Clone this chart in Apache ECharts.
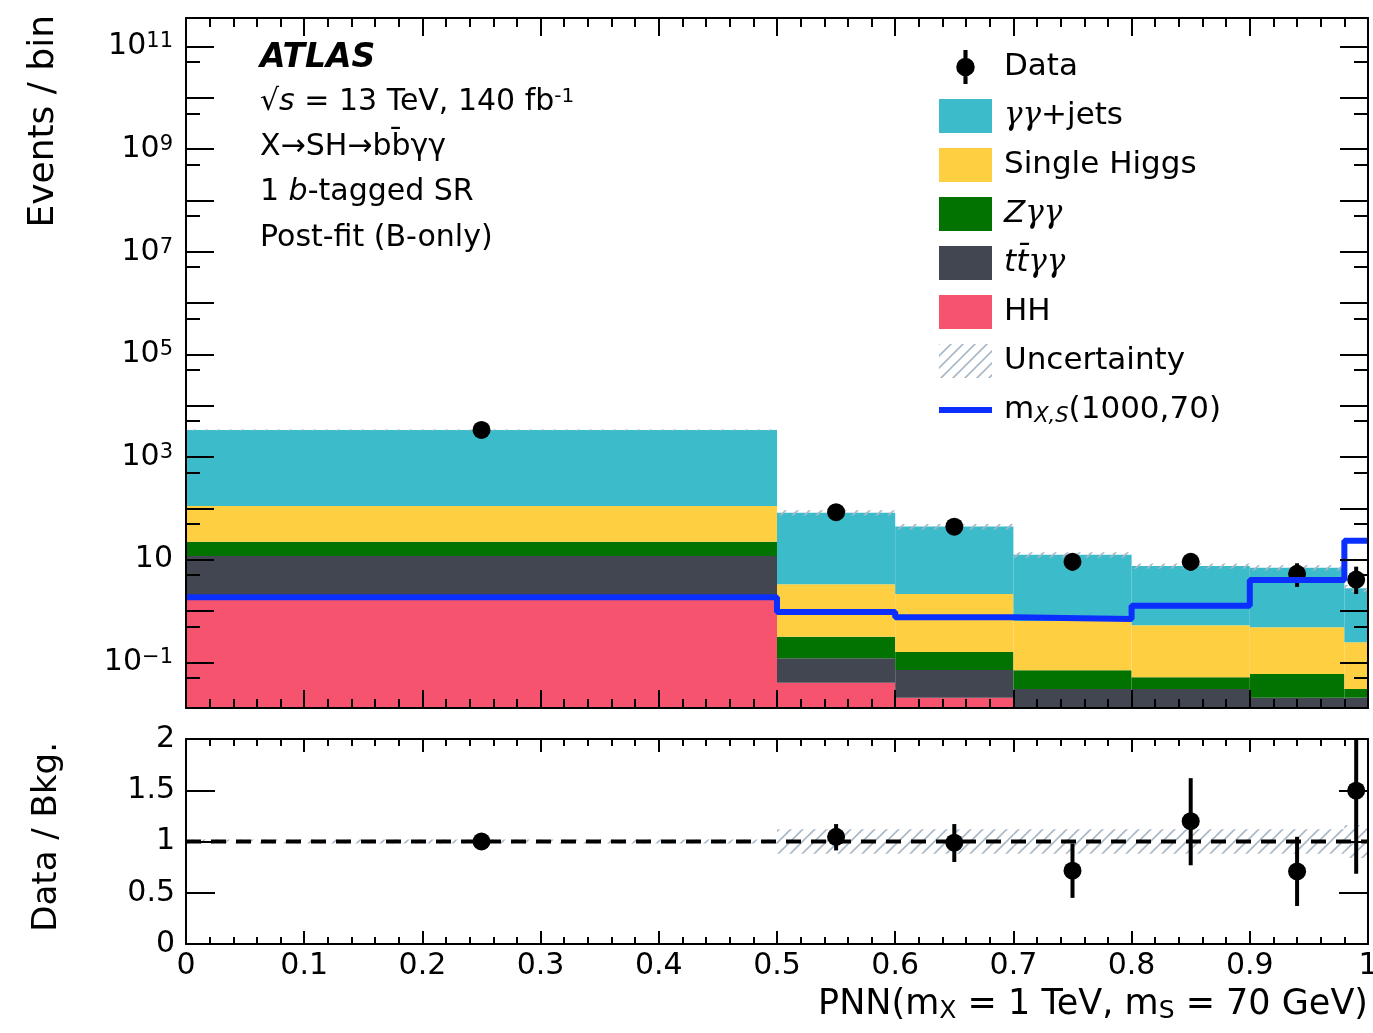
<!DOCTYPE html>
<html>
<head>
<meta charset="utf-8">
<title>PNN 1 b-tagged SR</title>
<script src="https://cdn.jsdelivr.net/npm/echarts@6/dist/echarts.min.js"></script>
<style>
  html, body { margin: 0; padding: 0; background: #fff; }
  #main { width: 1373px; height: 1033px; }
</style>
</head>
<body>
<div id="main"></div>
<script>
// bin edges of the PNN score
const binEdges = [0, 0.5, 0.6, 0.7, 0.8, 0.9, 0.98, 1.0]

// post-fit background yields per bin, stacked from the bottom
const hhYield      = [1.9, 0.040, 0.0204, 0.005, 0.005, 0.003, 0.002]
const ttyyYield    = [9.9, 0.080, 0.0504, 0.025, 0.025, 0.0174, 0.0184]
const zyyYield     = [10.6, 0.196, 0.0872, 0.040, 0.021, 0.0388, 0.0098]
const singleHYield = [88.6, 2.99, 1.98, 0.567, 0.475, 0.422, 0.215]
const yyjetsYield  = [3264, 79.1, 41.9, 11.8, 7.0, 6.5, 2.52]
// relative background uncertainty per bin
const bkgUnc = [0.02, 0.12, 0.12, 0.12, 0.12, 0.12, 0.16]

// signal m_X,S(1000,70)
const signalYield = [1.85, 0.955, 0.753, 0.698, 1.27, 4.02, 23.4]

// data points
const dataX  = [0.25, 0.55, 0.65, 0.75, 0.85, 0.94, 0.99]
const dataY  = [3380, 84, 44, 9.1, 9.1, 5.3, 4.1]
const dataLo = [3320, 75, 37.5, 6.1, 6.1, 2.94, 2.14]
const dataHi = [3440, 93, 50.5, 12.1, 12.1, 8.5, 7.3]

// data / bkg.
const ratioY  = [1.0, 1.046, 0.989, 0.715, 1.198, 0.708, 1.496]
const ratioLo = [0.99, 0.913, 0.80, 0.45, 0.768, 0.371, 0.686]
const ratioHi = [1.01, 1.17, 1.17, 0.98, 1.618, 1.046, 2.3]

// axis ranges and ticks
const yMin = 0.01285
const yMax = 3.6e11
const logMajorTicks = [0.1, 1, 10, 1e2, 1e3, 1e4, 1e5, 1e6, 1e7, 1e8, 1e9, 1e10, 1e11]
const logMinorTicks = [0.05, 0.5, 5, 50, 5e2, 5e3, 5e4, 5e5, 5e6, 5e7, 5e8, 5e9, 5e10]
const logLabelTicks = [0.1, 10, 1e3, 1e5, 1e7, 1e9, 1e11]
const ratioTicks = [0.5, 1, 1.5]

const FONT = 'DejaVu Sans'
const BLACK = '#000'

// hatch pattern for the uncertainty band
function makeHatch() {
  const c = document.createElement('canvas')
  c.width = 12
  c.height = 12
  const ctx = c.getContext('2d')
  ctx.strokeStyle = '#a9b8c6'
  ctx.lineWidth = 1.6
  ctx.beginPath()
  ctx.moveTo(0, 12); ctx.lineTo(12, 0)
  ctx.moveTo(-3, 3); ctx.lineTo(3, -3)
  ctx.moveTo(9, 15); ctx.lineTo(15, 9)
  ctx.stroke()
  return c
}
const hatch = { image: makeHatch(), repeat: 'repeat' }

// rectangle from [x0, x1, lo, hi]
function rectItem(fill) {
  return function(params, api) {
    const p0 = api.coord([api.value(0), api.value(3)])
    const p1 = api.coord([api.value(1), api.value(2)])
    return {
      type: 'rect',
      shape: { x: p0[0], y: p0[1], width: p1[0] - p0[0], height: p1[1] - p0[1] },
      style: { fill: fill }
    }
  }
}

// vertical error bar from [x, lo, hi]
function errItem(params, api) {
  const a = api.coord([api.value(0), api.value(1)])
  const b = api.coord([api.value(0), api.value(2)])
  return {
    type: 'line',
    shape: { x1: a[0], y1: a[1], x2: b[0], y2: b[1] },
    style: { stroke: BLACK, lineWidth: 4 }
  }
}

const stackDefs = [
  { name: 'HH', values: hhYield, color: '#f6536f' },
  { name: 'ttyy', values: ttyyYield, color: '#424650' },
  { name: 'Zyy', values: zyyYield, color: '#027200' },
  { name: 'Single Higgs', values: singleHYield, color: '#fecf41' },
  { name: 'yyjets', values: yyjetsYield, color: '#3cbbca' }
]
const total = hhYield.map(() => 0)
const stackSeries = stackDefs.map(def => {
  const rows = def.values.map((v, i) => {
    const lo = total[i] > 0 ? total[i] : yMin / 10
    total[i] += v
    return [binEdges[i], binEdges[i + 1], lo, total[i]]
  })
  return {
    name: def.name,
    type: 'custom',
    xAxisIndex: 0,
    yAxisIndex: 0,
    clip: true,
    itemStyle: { color: def.color },
    renderItem: rectItem(def.color),
    encode: { x: [0, 1], y: [2, 3] },
    data: rows
  }
})

const bandTop = total.map((t, i) => [binEdges[i], binEdges[i + 1], t * (1 - bkgUnc[i]), t * (1 + bkgUnc[i])])
const bandRatio = bkgUnc.map((u, i) => [binEdges[i], binEdges[i + 1], 1 - u, 1 + u])
const signalLine = binEdges.map((x, i) => [x, signalYield[Math.min(i, signalYield.length - 1)]])

function powLabel(v) {
  const e = Math.round(Math.log10(v))
  if (e === 1) return '{b|10}'
  return '{b|10}{e|' + (e < 0 ? '\u2212' + (-e) : e) + '}'
}

// x axes: labels only on the lowest one
function xAxisDef(grid, pos, majorLen, minorLen, withLabels) {
  return {
    gridIndex: grid,
    type: 'value',
    position: pos,
    min: 0,
    max: 1,
    interval: 0.1,
    z: 10,
    axisLine: { onZero: false, lineStyle: { color: BLACK, width: 2 } },
    axisTick: { inside: true, length: majorLen, lineStyle: { color: BLACK, width: 2 } },
    minorTick: { show: true, splitNumber: 5, length: minorLen, lineStyle: { color: BLACK, width: 2 } },
    splitLine: { show: false },
    minorSplitLine: { show: false },
    axisLabel: {
      show: withLabels,
      margin: 7,
      color: BLACK,
      fontFamily: FONT,
      fontSize: 30,
      hideOverlap: false,
      showMinLabel: true,
      showMaxLabel: true,
      formatter: v => String(Math.round(v * 10) / 10)
    }
  }
}

function logAxisDef(pos, ticks, len, withLine, withLabels) {
  return {
    gridIndex: 0,
    type: 'log',
    position: pos,
    min: yMin,
    max: yMax,
    z: 10,
    axisLine: { show: withLine, onZero: false, lineStyle: { color: BLACK, width: 2 } },
    axisTick: { inside: true, length: len, customValues: ticks, lineStyle: { color: BLACK, width: 2 } },
    minorTick: { show: false },
    splitLine: { show: false },
    axisLabel: {
      show: withLabels,
      customValues: logLabelTicks,
      margin: 13,
      color: BLACK,
      formatter: powLabel,
      rich: {
        b: { fontFamily: FONT, fontSize: 30, lineHeight: 30, color: BLACK },
        e: { fontFamily: FONT, fontSize: 21, lineHeight: 10, verticalAlign: 'top', color: BLACK }
      }
    }
  }
}

function ratioAxisDef(pos, withLabels) {
  return {
    gridIndex: 1,
    type: 'value',
    position: pos,
    min: 0,
    max: 2,
    interval: 0.5,
    z: 10,
    axisLine: { onZero: false, lineStyle: { color: BLACK, width: 2 } },
    axisTick: { inside: true, length: 29, customValues: ratioTicks, lineStyle: { color: BLACK, width: 2 } },
    splitLine: { show: false },
    axisLabel: {
      show: withLabels,
      margin: 11,
      color: BLACK,
      fontFamily: FONT,
      fontSize: 30,
      showMinLabel: true,
      showMaxLabel: true
    }
  }
}

const legendRich = {
  g: { fontFamily: 'DejaVu Serif', fontStyle: 'italic', fontSize: 31, lineHeight: 34, color: BLACK },
  i: { fontFamily: FONT, fontStyle: 'italic', fontSize: 31, lineHeight: 34, color: BLACK },
  sub: { fontFamily: FONT, fontStyle: 'italic', fontSize: 21, lineHeight: 4, verticalAlign: 'bottom', color: BLACK }
}
const legendText = {
  'Data': 'Data',
  'yyjets': '{g|\u03b3\u03b3}+jets',
  'Single Higgs': 'Single Higgs',
  'Zyy': '{i|Z}{g|\u03b3\u03b3}',
  'ttyy': '{i|tt\u0304}{g|\u03b3\u03b3}',
  'HH': 'HH',
  'Uncertainty': 'Uncertainty',
  'signal': 'm{sub|X,S}(1000,70)'
}

const chart = echarts.init(document.getElementById('main'))

const option = {
  animation: false,
  backgroundColor: '#fff',
  grid: [
    { left: 186, top: 18, width: 1182, height: 690, outerBoundsMode: 'none', containLabel: false },
    { left: 186, top: 739, width: 1182, height: 205, outerBoundsMode: 'none', containLabel: false }
  ],
  xAxis: [
    xAxisDef(0, 'bottom', 18, 9, false),
    xAxisDef(0, 'top', 18, 9, false),
    xAxisDef(1, 'bottom', 13, 7, true),
    xAxisDef(1, 'top', 13, 7, false)
  ],
  yAxis: [
    logAxisDef('left', logMajorTicks, 28, true, true),
    logAxisDef('left', logMinorTicks, 14, false, false),
    logAxisDef('right', logMajorTicks, 28, true, false),
    logAxisDef('right', logMinorTicks, 14, false, false),
    ratioAxisDef('left', true),
    ratioAxisDef('right', false)
  ],
  legend: {
    left: 939,
    top: 50,
    padding: 0,
    orient: 'vertical',
    itemWidth: 53,
    itemHeight: 34,
    itemGap: 15,
    selectedMode: false,
    formatter: name => legendText[name],
    textStyle: {
      fontFamily: FONT,
      fontSize: 31,
      lineHeight: 34,
      color: BLACK,
      padding: [0, 0, 0, 7],
      rich: legendRich
    },
    data: [
      { name: 'Data', icon: 'path://M7,0 L11,0 L11,33 L7,33 Z M0,16.5 A9,9 0 1,1 18,16.5 A9,9 0 1,1 0,16.5 Z', itemStyle: { color: BLACK } },
      { name: 'yyjets', icon: 'rect', itemStyle: { color: '#3cbbca' } },
      { name: 'Single Higgs', icon: 'rect', itemStyle: { color: '#fecf41' } },
      { name: 'Zyy', icon: 'rect', itemStyle: { color: '#027200' } },
      { name: 'ttyy', icon: 'rect', itemStyle: { color: '#424650' } },
      { name: 'HH', icon: 'rect', itemStyle: { color: '#f6536f' } },
      { name: 'Uncertainty', icon: 'rect', itemStyle: { color: hatch } },
      { name: 'signal', icon: 'path://M0,0 L52,0 L52,6 L0,6 Z', itemStyle: { color: '#0b2fff' } }
    ]
  },
  graphic: [
    { type: 'text', x: 260, y: 58, style: { text: 'ATLAS', fontFamily: FONT, fontSize: 33, fontWeight: 'bold', fontStyle: 'italic', fill: BLACK, verticalAlign: 'middle' } },
    {
      type: 'text', x: 260, y: 102,
      style: {
        text: '\u221a{i|s} = 13 TeV, 140 fb{sup|-1}',
        fontFamily: FONT, fontSize: 30, lineHeight: 30, fill: BLACK, verticalAlign: 'middle',
        rich: {
          i: { fontFamily: FONT, fontStyle: 'italic', fontSize: 30, lineHeight: 30 },
          sup: { fontFamily: FONT, fontSize: 20, lineHeight: 10, verticalAlign: 'top' }
        }
      }
    },
    { type: 'text', x: 260, y: 147, style: { text: 'X\u2192SH\u2192bb\u0304\u03b3\u03b3', fontFamily: FONT, fontSize: 30, fill: BLACK, verticalAlign: 'middle' } },
    {
      type: 'text', x: 260, y: 192,
      style: {
        text: '1 {i|b}-tagged SR',
        fontFamily: FONT, fontSize: 30, fill: BLACK, verticalAlign: 'middle',
        rich: { i: { fontFamily: FONT, fontStyle: 'italic', fontSize: 30 } }
      }
    },
    { type: 'text', x: 260, y: 238, style: { text: 'Post-fit (B-only)', fontFamily: FONT, fontSize: 30, fill: BLACK, verticalAlign: 'middle' } },
    // axis titles
    { type: 'text', x: 44, y: 15, rotation: Math.PI / 2, style: { text: 'Events / bin', fontFamily: FONT, fontSize: 36, fill: BLACK, align: 'right', verticalAlign: 'middle' } },
    { type: 'text', x: 47, y: 742, rotation: Math.PI / 2, style: { text: 'Data / Bkg.', fontFamily: FONT, fontSize: 34, fill: BLACK, align: 'right', verticalAlign: 'middle' } },
    {
      type: 'text', x: 1368, y: 1005,
      style: {
        text: 'PNN(m{sub|X} = 1 TeV, m{sub|S} = 70 GeV)',
        fontFamily: FONT, fontSize: 35, lineHeight: 38, fill: BLACK, align: 'right', verticalAlign: 'middle',
        rich: { sub: { fontFamily: FONT, fontSize: 25, lineHeight: 2, verticalAlign: 'bottom' } }
      }
    }
  ],
  series: [
    ...stackSeries,
    {
      name: 'Uncertainty',
      type: 'custom',
      xAxisIndex: 0,
      yAxisIndex: 0,
      clip: true,
      itemStyle: { color: hatch },
      renderItem: rectItem(hatch),
      encode: { x: [0, 1], y: [2, 3] },
      data: bandTop
    },
    {
      name: 'signal',
      type: 'line',
      xAxisIndex: 0,
      yAxisIndex: 0,
      step: 'end',
      symbol: 'none',
      color: '#0b2fff',
      itemStyle: { color: '#0b2fff' },
      lineStyle: { color: '#0b2fff', width: 6 },
      data: signalLine
    },
    {
      name: 'dataErr',
      type: 'custom',
      xAxisIndex: 0,
      yAxisIndex: 0,
      clip: true,
      renderItem: errItem,
      encode: { x: 0, y: [1, 2] },
      data: dataX.map((x, i) => [x, dataLo[i], dataHi[i]])
    },
    {
      name: 'Data',
      type: 'scatter',
      xAxisIndex: 0,
      yAxisIndex: 0,
      symbol: 'circle',
      symbolSize: 18,
      itemStyle: { color: BLACK, opacity: 1 },
      data: dataX.map((x, i) => [x, dataY[i]])
    },
    // ratio panel
    {
      name: 'ratioBand',
      type: 'custom',
      xAxisIndex: 2,
      yAxisIndex: 4,
      clip: true,
      renderItem: rectItem(hatch),
      encode: { x: [0, 1], y: [2, 3] },
      data: bandRatio
    },
    {
      name: 'unity',
      type: 'line',
      xAxisIndex: 2,
      yAxisIndex: 4,
      symbol: 'none',
      lineStyle: { color: BLACK, width: 4, type: [15, 10] },
      data: [[0, 1], [1, 1]]
    },
    {
      name: 'ratioErr',
      type: 'custom',
      xAxisIndex: 2,
      yAxisIndex: 4,
      clip: true,
      renderItem: errItem,
      encode: { x: 0, y: [1, 2] },
      data: dataX.map((x, i) => [x, ratioLo[i], ratioHi[i]])
    },
    {
      name: 'ratio',
      type: 'scatter',
      xAxisIndex: 2,
      yAxisIndex: 4,
      symbol: 'circle',
      symbolSize: 18,
      itemStyle: { color: BLACK, opacity: 1 },
      data: dataX.map((x, i) => [x, ratioY[i]])
    }
  ]
}

chart.setOption(option)
</script>
</body>
</html>
